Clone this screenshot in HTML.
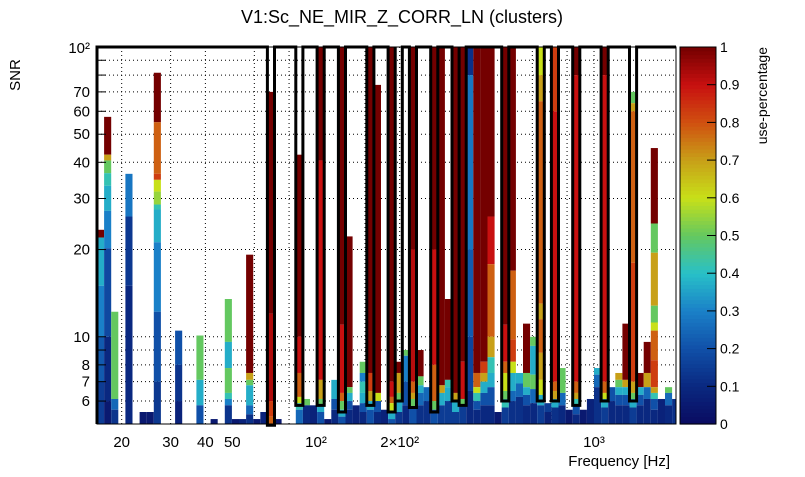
<!DOCTYPE html>
<html><head><meta charset="utf-8"><style>
body{margin:0;background:#fff;}
svg text{font-family:"Liberation Sans",sans-serif;fill:#000;}
</style></head><body>
<svg id="chart" width="805" height="472" viewBox="0 0 805 472" xmlns="http://www.w3.org/2000/svg">
<rect width="805" height="472" fill="#fff"/>
<text x="402" y="23" font-size="18" text-anchor="middle">V1:Sc_NE_MIR_Z_CORR_LN (clusters)</text>
<text transform="translate(20,75) rotate(-90)" font-size="15" text-anchor="middle">SNR</text>
<text x="670" y="466" font-size="15" text-anchor="end">Frequency [Hz]</text>
<text transform="translate(767,47) rotate(-90)" font-size="14" text-anchor="end">use-percentage</text>
<g id="grid"></g><g id="cells"></g><g id="veto"></g><g id="axes"></g><g id="cbar"></g>
</svg>
<script>
const binIndex=[0,1,2,4,6,7,8,11,14,16,18,19,20,21,22,23,24,25,28,29,30,31,32,33,34,35,36,37,38,39,40,41,42,43,44,45,46,47,48,49,50,51,52,53,54,55,56,57,58,59,60,61,62,63,64,65,66,67,68,69,70,71,72,73,74,75,76,77,78,79,80,81];
const Gr=0.5,YG=0.6,Y=0.7,O=0.78,RO=0.83,R=0.9,DR=1.0,T=0.42,C=0.37,N=0.05;
const binSegments=[
[[23.4,DR],[22,0.37],[15,0.3],[10,0.22],[7,0.15]],
[[57.4,DR],[42.5,Y],[40.6,Gr],[36.7,T],[33.2,C],[27.2,0.3],[20.2,0.18],[10,0.1],[6,0.05]],
[[12.2,Gr],[6.1,0.25],[5.6,0.13]],
[[36.5,0.28],[26,0.14],[15,0.1]],
[[5.5,N]],[[5.5,N]],
[[81.5,DR],[55,O],[36.5,RO],[34.8,YG],[31.7,0.55],[28.6,T],[27.5,C],[21.2,0.3],[12.2,0.2],[7,0.14]],
[[10.5,0.2],[8,0.13],[6,0.08]],
[[10.1,Gr],[7.1,C],[5.8,0.2]],
[[5.2,N]],
[[13.5,Gr],[9.6,C],[7.8,Gr],[6.4,T],[6.1,0.3],[5.8,0.13]],
[[5.2,N]],[[5.2,0.08]],
[[19.2,DR],[7.5,Y],[7.1,Gr],[6.8,C],[5.8,0.25],[5.4,0.12]],
[[5.2,N]],[[5.5,0.08]],
[[70,DR],[12,0.93],[6,RO],[5.3,O]],
[[5.2,N]],
[[42.5,DR],[10,R],[7.5,O],[6.2,YG],[5.9,T],[5.6,0.25]],
[[6.1,Gr],[5.8,0.1]],
[[5.8,0.08]],
[[100,DR],[40.6,R],[7.1,Y],[6.1,Gr],[5.8,C],[5.5,0.2]],
[[5.2,N]],
[[7.1,C],[6.1,0.2],[5.6,0.1]],
[[100,DR],[11,R],[6.4,O],[6.0,Gr],[5.6,C],[5.3,0.2]],
[[22.2,DR],[6.7,Gr],[6.4,C],[6.0,0.2],[5.6,0.1]],
[[5.8,0.08]],
[[8.2,Gr],[7.5,0.3],[7.0,T],[6.4,C],[5.9,0.2],[5.5,0.1]],
[[100,DR],[7.5,RO],[6.5,Y],[6.0,C],[5.6,0.2]],
[[74,DR],[6.4,YG],[6.0,0.2],[5.5,0.1]],
[[5.6,0.08]],
[[100,DR],[7,R],[6.2,O],[5.9,YG],[5.5,C],[5.2,0.2]],
[[8.2,DR],[7.5,Y],[6.4,Gr],[6.0,C],[5.5,0.13]],
[[9.0,Gr],[8.6,0.3],[7,0.2],[5.8,0.1]],
[[100,DR],[20,0.92],[7,O],[6.4,Y],[6.1,Gr],[5.7,0.2]],
[[9.0,DR],[7.3,Gr],[6.8,C],[6.4,0.25],[5.8,0.12]],
[[6.7,0.25],[6.0,0.12]],
[[100,DR],[20,R],[8,O],[6.0,Gr],[5.6,0.2]],
[[100,DR],[6.8,Y],[6.4,C],[5.8,0.15]],
[[13.5,DR],[7.1,T],[6.7,C],[6.0,0.15]],
[[100,DR],[6.4,Y],[6.0,C],[5.5,0.15]],
[[100,DR],[8.2,R],[6.1,Gr],[5.8,0.15]],
[[100,0.12],[80,0.28],[20,0.22],[10,0.17],[6.5,0.1]],
[[100,DR],[7.5,O],[6.7,YG],[6.4,T],[6.0,0.2],[5.6,0.1]],
[[100,DR],[8.2,RO],[7.5,Y],[7.0,C],[6.4,0.2],[5.8,0.1]],
[[100,DR],[26,R],[17.8,O],[10,Y],[8.5,T],[7.5,C],[6.7,0.2],[5.8,0.1]],
[[5.5,N]],
[[100,DR],[11,R],[8.2,O],[7.5,YG],[6.5,Gr],[6.1,T],[5.7,0.15]],
[[100,DR],[16.9,O],[9.8,RO],[8.2,YG],[7.5,C],[6.5,0.25],[6,0.12]],
[[7.5,C],[6.9,0.25],[6.2,0.12]],
[[11.1,DR],[7.5,Gr],[6.7,C],[6.3,0.2],[5.8,0.1]],
[[10.0,Gr],[9.3,C],[7.4,Gr],[6.6,0.25],[5.9,0.1]],
[[100,YG],[80,Y],[65,O],[13,Y],[11.5,O],[8.8,Y],[7.1,YG],[6.3,C],[5.8,0.15]],
[[5.9,0.15],[5.5,0.08]],
[[100,RO],[60,R],[7,O],[6.5,Y],[6.1,C],[5.7,0.12]],
[[7.8,Gr],[6.4,0.25],[5.8,0.1]],
[[5.6,N]],
[[100,DR],[80,R],[7,O],[6.4,Y],[6.1,T],[5.8,0.2],[5.4,0.1]],
[[5.6,N]],
[[6.1,0.08]],
[[7.8,C],[7.4,0.25],[6.7,0.12]],
[[100,DR],[80,R],[7,O],[6.4,YG],[6.1,C],[5.7,0.15]],
[[6.7,0.2],[6.0,0.1]],
[[7.5,Y],[7.1,Gr],[6.7,C],[6.3,0.2],[5.8,0.1]],
[[11.1,DR],[7.1,Y],[6.7,C],[6.3,0.2],[5.8,0.1]],
[[70,Gr],[64,Y],[60,O],[18,RO],[7,Y],[6.4,Gr],[6.1,C],[5.7,0.15]],
[[7.5,DR],[6.7,C],[6.3,0.2],[5.8,0.1]],
[[9.6,DR],[7.5,Y],[6.7,0.25],[6.1,0.1]],
[[44.8,DR],[24.6,Gr],[19.5,Y],[12.8,Gr],[11.2,YG],[10.5,O],[8.3,RO],[6.7,Y],[6.4,T],[6.1,0.2],[5.6,0.1]],
[[6.1,0.08]],
[[6.7,Gr],[6.4,0.25],[5.8,0.1]],
[[6.1,0.12]]
];
const vetoBins=[24,28,31,34,38,41,42,44,47,50,51,57,62,64,67,71,75];
const vetoDip=[4.95,5.8,5.8,5.5,5.8,5.5,6.0,5.7,5.5,6.0,5.8,6.0,6.0,6.0,5.8,6.0,6.0];
const yTickValues=[6,7,8,9,10,20,30,40,50,60,70,80,90];
const yLabelValues=[6,7,8,10,20,30,40,50,60,70];
const xGridFreqs=[20,30,40,60,80,150,200,400,600,700,800,1000];
const xLabelFreqs=[20,30,40,50,100,200,1000];
const xLabelText=["20","30","40","50","10²","2×10²","10³"];
const cbarTicks=[0,0.1,0.2,0.3,0.4,0.5,0.6,0.7,0.8,0.9,1];

const L=97,Rt=676,Top=47,Bot=424,BW=7.1,YMIN=5,YMAX=100;
const NS="http://www.w3.org/2000/svg";
function yS(s){return Bot-(Bot-Top)*(Math.log10(s)-Math.log10(YMIN))/(Math.log10(YMAX)-Math.log10(YMIN));}
function xF(f){return 316+278*(Math.log10(f)-2);}
function xB(k){return Math.min(Rt,L+BW*k);}
const stops=[[0,[10,10,96]],[0.1,[10,40,128]],[0.2,[16,80,168]],[0.3,[26,128,200]],[0.4,[40,192,200]],[0.5,[100,200,96]],[0.6,[200,224,24]],[0.7,[200,160,24]],[0.8,[208,80,16]],[0.9,[200,16,16]],[1,[116,0,0]]];
function col(v){v=Math.max(0,Math.min(1,v));for(let i=1;i<stops.length;i++){if(v<=stops[i][0]){const a=stops[i-1],b=stops[i],t=(v-a[0])/(b[0]-a[0]);const c=a[1].map((x,j)=>Math.round(x+(b[1][j]-x)*t));return `rgb(${c[0]},${c[1]},${c[2]})`;}}return 'rgb(116,0,0)';}
function mk(tag,attrs,parent){const e=document.createElementNS(NS,tag);for(const k in attrs)e.setAttribute(k,attrs[k]);parent.appendChild(e);return e;}

const grid=document.getElementById('grid');
yTickValues.forEach(v=>{const l=mk('line',{x1:L,x2:Rt,y1:yS(v),y2:yS(v),stroke:'#000','stroke-width':1,'stroke-dasharray':'1,3'},grid);

});
xGridFreqs.forEach(f=>{const l=mk('line',{x1:xF(f),x2:xF(f),y1:Top,y2:Bot,stroke:'#000','stroke-width':1,'stroke-dasharray':'1,3'},grid);

});

const cells=document.getElementById('cells');
binIndex.forEach((k,i)=>{const segs=binSegments[i];const x0=xB(k),x1=xB(k+1);
segs.forEach((s,j)=>{const hi=s[0],lo=j+1<segs.length?segs[j+1][0]:YMIN;
const r=mk('rect',{x:x0,y:yS(hi),width:x1-x0,height:yS(lo)-yS(hi),fill:col(s[1])},cells);

});});

let d=`M${L} ${Bot} L${L} ${Top}`;
vetoBins.forEach((k,i)=>{const x0=xB(k),x1=xB(k+1),yd=yS(vetoDip[i]);
d+=` L${x0} ${Top} L${x0} ${yd} L${x1} ${yd} L${x1} ${Top}`;});
d+=` L${Rt} ${Top}`;
const vp=mk('path',{d:d,fill:'none',stroke:'#000','stroke-width':3,'stroke-linejoin':'miter'},document.getElementById('veto'));



const axes=document.getElementById('axes');
const fr=mk('rect',{x:L,y:Top,width:Rt-L,height:Bot-Top,fill:'none',stroke:'#000','stroke-width':1},axes);


yTickValues.forEach(v=>{const t=mk('line',{x1:L,x2:L+9,y1:yS(v),y2:yS(v),stroke:'#000','stroke-width':1},axes);

});
yLabelValues.forEach(v=>{const t=mk('text',{x:90,y:yS(v)+5,'font-size':15,'text-anchor':'end'},axes);t.textContent=String(v);

});
const t100=mk('text',{x:90,y:yS(100)+6,'font-size':15,'text-anchor':'end'},axes);t100.textContent='10²';


xLabelFreqs.forEach((f,i)=>{const t=mk('text',{x:xF(f),y:447,'font-size':15,'text-anchor':'middle'},axes);t.textContent=xLabelText[i];

});

const cb=document.getElementById('cbar');const CX=680,CW=36;
for(let i=0;i<100;i++){const v0=i/100;const y1=Bot-(Bot-Top)*(v0+0.01),y0=Bot-(Bot-Top)*v0;
const r=mk('rect',{x:CX,y:y1,width:CW,height:y0-y1+0.6,fill:col(v0+0.005)},cb);

}
const cbf=mk('rect',{x:CX,y:Top,width:CW,height:Bot-Top,fill:'none',stroke:'#000','stroke-width':1},cb);


cbarTicks.forEach(v=>{const y=Bot-(Bot-Top)*v;
const l=mk('line',{x1:CX+CW-9,x2:CX+CW,y1:y,y2:y,stroke:'#000','stroke-width':1},cb);


const t=mk('text',{x:CX+CW+4,y:y+5,'font-size':14},cb);t.textContent=String(v);

});
</script>
</body></html>
